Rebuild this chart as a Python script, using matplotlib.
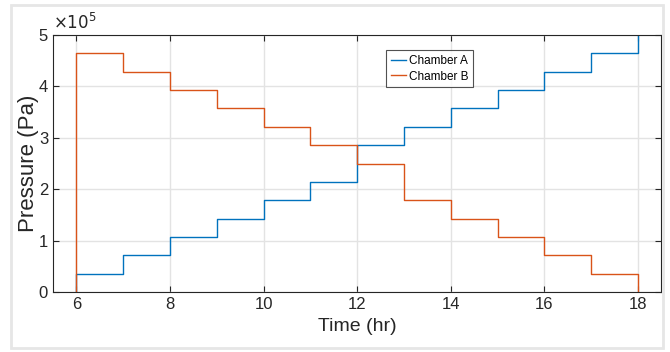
import numpy as np
import matplotlib
matplotlib.use('Agg')
import matplotlib.pyplot as plt
from matplotlib.patches import Rectangle

plt.rcParams['font.family'] = ['Liberation Sans', 'DejaVu Sans']

# hourly step levels (x 1e5 Pa)
hours = [6, 7, 8, 9, 10, 11, 12, 13, 14, 15, 16, 17, 18]
chamber_a = [0.357, 0.714, 1.071, 1.429, 1.786, 2.143, 2.857, 3.214, 3.571, 3.929, 4.286, 4.643, 5.0]
chamber_b = [4.643, 4.286, 3.929, 3.571, 3.214, 2.857, 2.5, 1.786, 1.429, 1.071, 0.714, 0.357, 0.0]

fig = plt.figure(figsize=(6.7, 3.52), dpi=100)
fig.patches.append(Rectangle((0.017, 0.012), 0.973, 0.975, transform=fig.transFigure,
                             fill=False, edgecolor='#e6e6e6', linewidth=2))
ax = fig.add_axes([0.079, 0.170, 0.908, 0.731])

x = np.array([hours[0]] + hours)
ya = np.array([0] + chamber_a) * 1e5
yb = np.array([0] + chamber_b) * 1e5
ax.plot(x, ya, drawstyle='steps-post', color='#0072BD', lw=1.0, label='Chamber A')
ax.plot(x, yb, drawstyle='steps-post', color='#D95319', lw=1.0, label='Chamber B')

ax.set_xlim(5.5, 18.5)
ax.set_ylim(0, 5e5)
ax.set_xticks(range(6, 19, 2))
ax.set_yticks(np.arange(0, 6) * 1e5)
ax.set_yticklabels([str(i) for i in range(6)])
ax.tick_params(direction='in', top=True, right=True, labelsize=12, length=4, color='#262626', labelcolor='#262626')
ax.grid(True, color='#e3e3e3', lw=1)
ax.set_axisbelow(True)
for s in ax.spines.values():
    s.set_color('#262626')

ax.set_xlabel('Time (hr)', fontsize=14, color='#262626', labelpad=4)
ax.set_ylabel('Pressure (Pa)', fontsize=16, color='#262626', labelpad=0)
fig.text(0.079, 0.91, r'$\times10^{5}$', fontsize=12, color='#262626', ha='left', va='bottom')

leg = ax.legend(loc='upper left', bbox_to_anchor=(0.548, 0.94), fontsize=8.5, frameon=True,
                fancybox=False, edgecolor='#262626', handlelength=1.3, handletextpad=0.2,
                borderpad=0.4, labelspacing=0.3, borderaxespad=0)
leg.get_frame().set_linewidth(0.8)

fig.savefig('out.png', dpi=100)
